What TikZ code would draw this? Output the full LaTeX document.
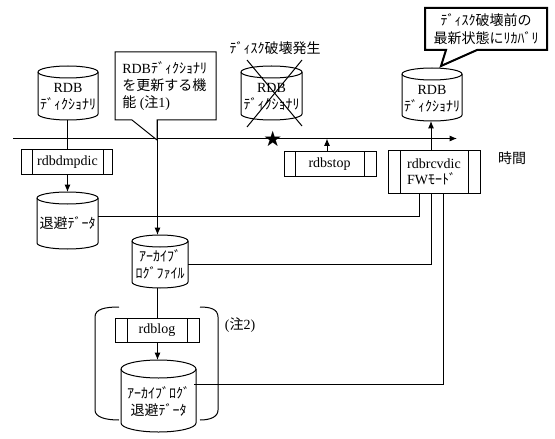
\documentclass[tikz,border=0pt]{standalone}
\usepackage{fontspec}
\setmainfont{Liberation Serif}
\newfontfamily\jpf{Noto Sans CJK JP}
\newcommand{\J}[1]{{\jpf #1}}
\normallineskiplimit=-50pt
\lineskiplimit=-50pt
\usetikzlibrary{arrows.meta}
\tikzset{
  x=0.75pt,y=-0.75pt,
  line/.style={line width=0.75pt,draw=black},
  arr/.style={line,-{Latex[length=5.5pt,width=4.5pt]}},
  lbl/.style={font=\fontsize{10.5pt}{13pt}\selectfont,inner sep=0pt,align=center},
  lbl left/.style={lbl,align=left},
  slot/.style={inner sep=0pt,outer sep=0pt},
}
% name, x1, y1, x2, y2, ellipse half-height, text, text dy
\newcommand{\cyl}[8]{%
  \node[slot,minimum width={(#4-#2)*0.75pt},minimum height={(#5-#3)*0.75pt}] (#1) at ({(#2+#4)/2},{(#3+#5)/2}) {};
  \fill[white] (#2,#3+#6) arc[start angle=180,end angle=0,x radius={(#4-#2)/2*0.75pt},y radius={#6*0.75pt}] -- (#4,#5-#6) arc[start angle=0,end angle=-180,x radius={(#4-#2)/2*0.75pt},y radius={#6*0.75pt}] -- cycle;
  \draw[line] (#2,#3+#6) arc[start angle=180,end angle=0,x radius={(#4-#2)/2*0.75pt},y radius={#6*0.75pt}] -- (#4,#5-#6) arc[start angle=0,end angle=-180,x radius={(#4-#2)/2*0.75pt},y radius={#6*0.75pt}] -- cycle;
  \draw[line] (#2,#3+#6) arc[start angle=180,end angle=360,x radius={(#4-#2)/2*0.75pt},y radius={#6*0.75pt}];
  \node[lbl] (#1t) at ({(#2+#4)/2},{(#3+#5)/2+#8}) {#7};
}
% name, x1, y1, x2, y2, inner left, inner right, text
\newcommand{\proc}[8]{%
  \node[slot,draw=black,line width=0.75pt,fill=white,minimum width={(#4-#2)*0.75pt},minimum height={(#5-#3)*0.75pt}] (#1) at ({(#2+#4)/2},{(#3+#5)/2}) {};
  \draw[line] (#6,#3) -- (#6,#5) (#7,#3) -- (#7,#5);
  \node[lbl left] (#1t) at ({(#6+#7)/2},{(#3+#5)/2}) {#8};
}
\begin{document}
\begin{tikzpicture}
\useasboundingbox[fill=white] (0,0) rectangle (555,438);

\coordinate (tlstart) at (13,138.5);
\coordinate (tlend) at (457,138.5);
% columns the connectors run along
\coordinate (colA) at (67.5,0);
\coordinate (colB) at (157.5,0);
\coordinate (colC) at (327,0);
\coordinate (colD) at (419,0);
\coordinate (colE) at (431,0);
\coordinate (colF) at (443,0);

% brackets behind cylinder
\draw[line] (119,307) .. controls (105,307) and (95,309) .. (95,317) -- (95,410) .. controls (95,417) and (105,420) .. (119,420);
\draw[line] (200,307) .. controls (210,307) and (218,309) .. (218,317) -- (218,410) .. controls (218,417) and (210,420) .. (200,420);

% timeline
\draw[arr] (tlstart) -- (tlend);

% cylinders
\cyl{rdba}{38}{66}{98}{120}{6}{RDB\\\J{ﾃﾞｨｸｼｮﾅﾘ}}{4}
\cyl{rdbb}{241}{66}{302}{120}{6}{RDB\\\J{ﾃﾞｨｸｼｮﾅﾘ}}{4}
\cyl{rdbc}{402}{68}{462}{121}{6}{RDB\\\J{ﾃﾞｨｸｼｮﾅﾘ}}{4}
\cyl{save}{37}{192}{98}{249}{6}{\J{退避ﾃﾞｰﾀ}}{3}
\cyl{arch}{132}{235}{188}{288}{6}{\J{ｱｰｶｲﾌﾞ}\\\J{ﾛｸﾞﾌｧｲﾙ}}{3}
\cyl{archsave}{121}{360}{196}{432}{9}{\J{ｱｰｶｲﾌﾞﾛｸﾞ}\\\J{退避ﾃﾞｰﾀ}}{5.5}

% process boxes
\proc{dmp}{21}{150}{112}{174}{32}{103}{rdbdmpdic}
\proc{stop}{284}{152}{376}{176}{295}{364}{rdbstop}
\proc{rcv}{388}{151}{480}{193}{400}{468}{rdbrcvdic\\[-1.5pt]FW\J{ﾓｰﾄﾞ}}
\proc{blog}{115}{318}{199}{342}{127}{187}{rdblog}

% callouts
\node[slot,minimum width=75.75pt,minimum height=51pt] (note) at (165.5,86) {};
\coordinate (notetip) at (157,140);
\draw[line,fill=white] (note.north west) -- (note.north east) -- (note.south east) -- (157,120) -- (notetip) -- (132,120) -- (note.south west) -- cycle;
\node[lbl left,anchor=west] (notet) at (122,86) {RDB\J{ﾃﾞｨｸｼｮﾅﾘ}\\\J{を更新する機}\\\J{能} (\J{注}1)};

\node[slot,minimum width=91.5pt,minimum height=31.5pt] (recover) at (486,29) {};
\coordinate (recovertip) at (441,66);
\draw[line width=1.5pt,fill=white] (recover.north west) -- (recover.north east) -- (recover.south east) -- (477,50) -- (recovertip) -- (446,50) -- (recover.south west) -- cycle;
\node[lbl] (recovert) at (486,29) {\J{ﾃﾞｨｽｸ破壊前の}\\\J{最新状態にﾘｶﾊﾞﾘ}};

% connectors
\draw[line] (rdba.south -| colA) -- (dmp.north -| colA);
\draw[arr] (dmp.south -| colA) -- (save.north -| colA);
\draw[arr] (note.south -| colB) -- (arch.north -| colB);
\draw[line] (arch.south -| colB) -- (blog.north -| colB);
\draw[arr] (blog.south -| colB) -- (archsave.north -| colB);
\draw[arr] (stop.north -| colC) -- (tlend -| colC);
\draw[arr] (rcv.north -| colE) -- (rdbc.south -| colE);
\coordinate (ya) at (0,216);
\coordinate (yb) at (0,264);
\coordinate (yc) at (0,384);
\draw[line] (save.east |- ya) -- (colD |- ya) -- (rcv.south -| colD);
\draw[line] (arch.east |- yb) -- (colE |- yb) -- (rcv.south -| colE);
\draw[line] (194,384) -- (colF |- yc) -- (rcv.south -| colF);

% cross
\coordinate (xa) at (247,60);
\coordinate (xb) at (302,126);
\coordinate (xc) at (247,127);
\coordinate (xd) at (302,60);
\draw[line] (xa) -- (xb);
\draw[line] (xc) -- (xd);

% labels
\node[lbl] (crash) at (275,48) {\J{ﾃﾞｨｽｸ破壊発生}};
\node[lbl] (time) at (512,158) {\J{時間}};
\node[lbl] (note2) at (240,325) {(\J{注}2)};
\node[font=\fontsize{13pt}{13pt}\selectfont\jpf,inner sep=0pt] (star) at (273,139) {★};
\end{tikzpicture}
\end{document}
